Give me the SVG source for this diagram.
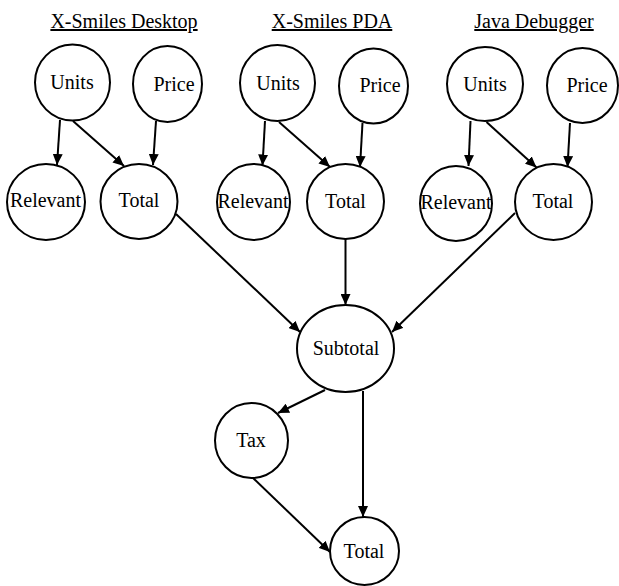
<svg xmlns="http://www.w3.org/2000/svg" width="619" height="586" viewBox="0 0 619 586">
<style>
.n{fill:#fff;stroke:#000;stroke-width:2}
text{font-family:'Liberation Serif','Times New Roman','DejaVu Serif',serif;fill:#000;text-anchor:middle}
.t{font-size:20px}
.h{font-size:20px;text-decoration:underline}
.e{stroke:#000;stroke-width:2;fill:none;marker-end:url(#a)}
</style>
<defs>
<marker id="a" markerUnits="userSpaceOnUse" markerWidth="12" markerHeight="10" refX="11" refY="5" orient="auto">
<path d="M0,0 L11,5 L0,10 Z" fill="#000"/>
</marker>
</defs>
<rect width="619" height="586" fill="#fff"/>
<g id="titles">
<text class="h" x="124" y="28">X-Smiles Desktop</text>
<text class="h" x="332" y="28">X-Smiles PDA</text>
<text class="h" x="534" y="28">Java Debugger</text>
</g>
<g id="edges">
<line class="e" x1="60" y1="120" x2="57" y2="165"/>
<line class="e" x1="73" y1="121" x2="124" y2="166"/>
<line class="e" x1="156" y1="121" x2="153" y2="165"/>
<line class="e" x1="265" y1="121" x2="262.5" y2="165.5"/>
<line class="e" x1="279" y1="122" x2="330" y2="167"/>
<line class="e" x1="362.5" y1="123" x2="360" y2="167"/>
<line class="e" x1="470.5" y1="121" x2="468.5" y2="166"/>
<line class="e" x1="486.5" y1="122" x2="536.5" y2="167.5"/>
<line class="e" x1="570" y1="123" x2="567.5" y2="167"/>
<line class="e" x1="176" y1="214" x2="300" y2="332"/>
<line class="e" x1="345.5" y1="239" x2="345.5" y2="305"/>
<line class="e" x1="515" y1="213" x2="392" y2="332"/>
<line class="e" x1="325" y1="390" x2="278" y2="413"/>
<line class="e" x1="363" y1="391" x2="363" y2="517"/>
<line class="e" x1="252" y1="477" x2="330" y2="552"/>
</g>
<g id="d-units"><ellipse class="n" cx="72.5" cy="82.5" rx="37.5" ry="38"/><text class="t" x="72" y="88.5">Units</text></g>
<g id="d-price"><ellipse class="n" cx="167.5" cy="84" rx="34.5" ry="38"/><text class="t" x="174" y="90.5">Price</text></g>
<g id="d-relevant"><ellipse class="n" cx="46" cy="202" rx="39" ry="38"/><text class="t" x="45.5" y="207">Relevant</text></g>
<g id="d-total"><ellipse class="n" cx="139" cy="201.5" rx="38.5" ry="37.5"/><text class="t" x="139" y="207">Total</text></g>
<g id="p-units"><ellipse class="n" cx="277.5" cy="83" rx="37.5" ry="38"/><text class="t" x="278" y="90">Units</text></g>
<g id="p-price"><ellipse class="n" cx="373.5" cy="86" rx="34.5" ry="37.5"/><text class="t" x="380" y="91.5">Price</text></g>
<g id="p-relevant"><ellipse class="n" cx="253.5" cy="202" rx="36.5" ry="38"/><text class="t" x="253" y="208">Relevant</text></g>
<g id="p-total"><ellipse class="n" cx="345.5" cy="201.5" rx="38.5" ry="37.5"/><text class="t" x="345.5" y="208">Total</text></g>
<g id="j-units"><ellipse class="n" cx="485" cy="84" rx="38" ry="37"/><text class="t" x="485" y="90.5">Units</text></g>
<g id="j-price"><ellipse class="n" cx="582.5" cy="85.5" rx="35.5" ry="37.5"/><text class="t" x="587" y="91.5">Price</text></g>
<g id="j-relevant"><ellipse class="n" cx="456" cy="203.5" rx="36" ry="37.5"/><text class="t" x="456" y="209">Relevant</text></g>
<g id="j-total"><ellipse class="n" cx="553.5" cy="202" rx="38.5" ry="38"/><text class="t" x="553" y="208">Total</text></g>
<g id="subtotal"><ellipse class="n" cx="345.5" cy="348.5" rx="48.5" ry="43.5"/><text class="t" x="346" y="355">Subtotal</text></g>
<g id="tax"><ellipse class="n" cx="251.5" cy="440.5" rx="36.5" ry="37.5"/><text class="t" x="251" y="446.5">Tax</text></g>
<g id="total"><ellipse class="n" cx="364.5" cy="551" rx="34.5" ry="34"/><text class="t" x="364" y="558">Total</text></g>
</svg>
